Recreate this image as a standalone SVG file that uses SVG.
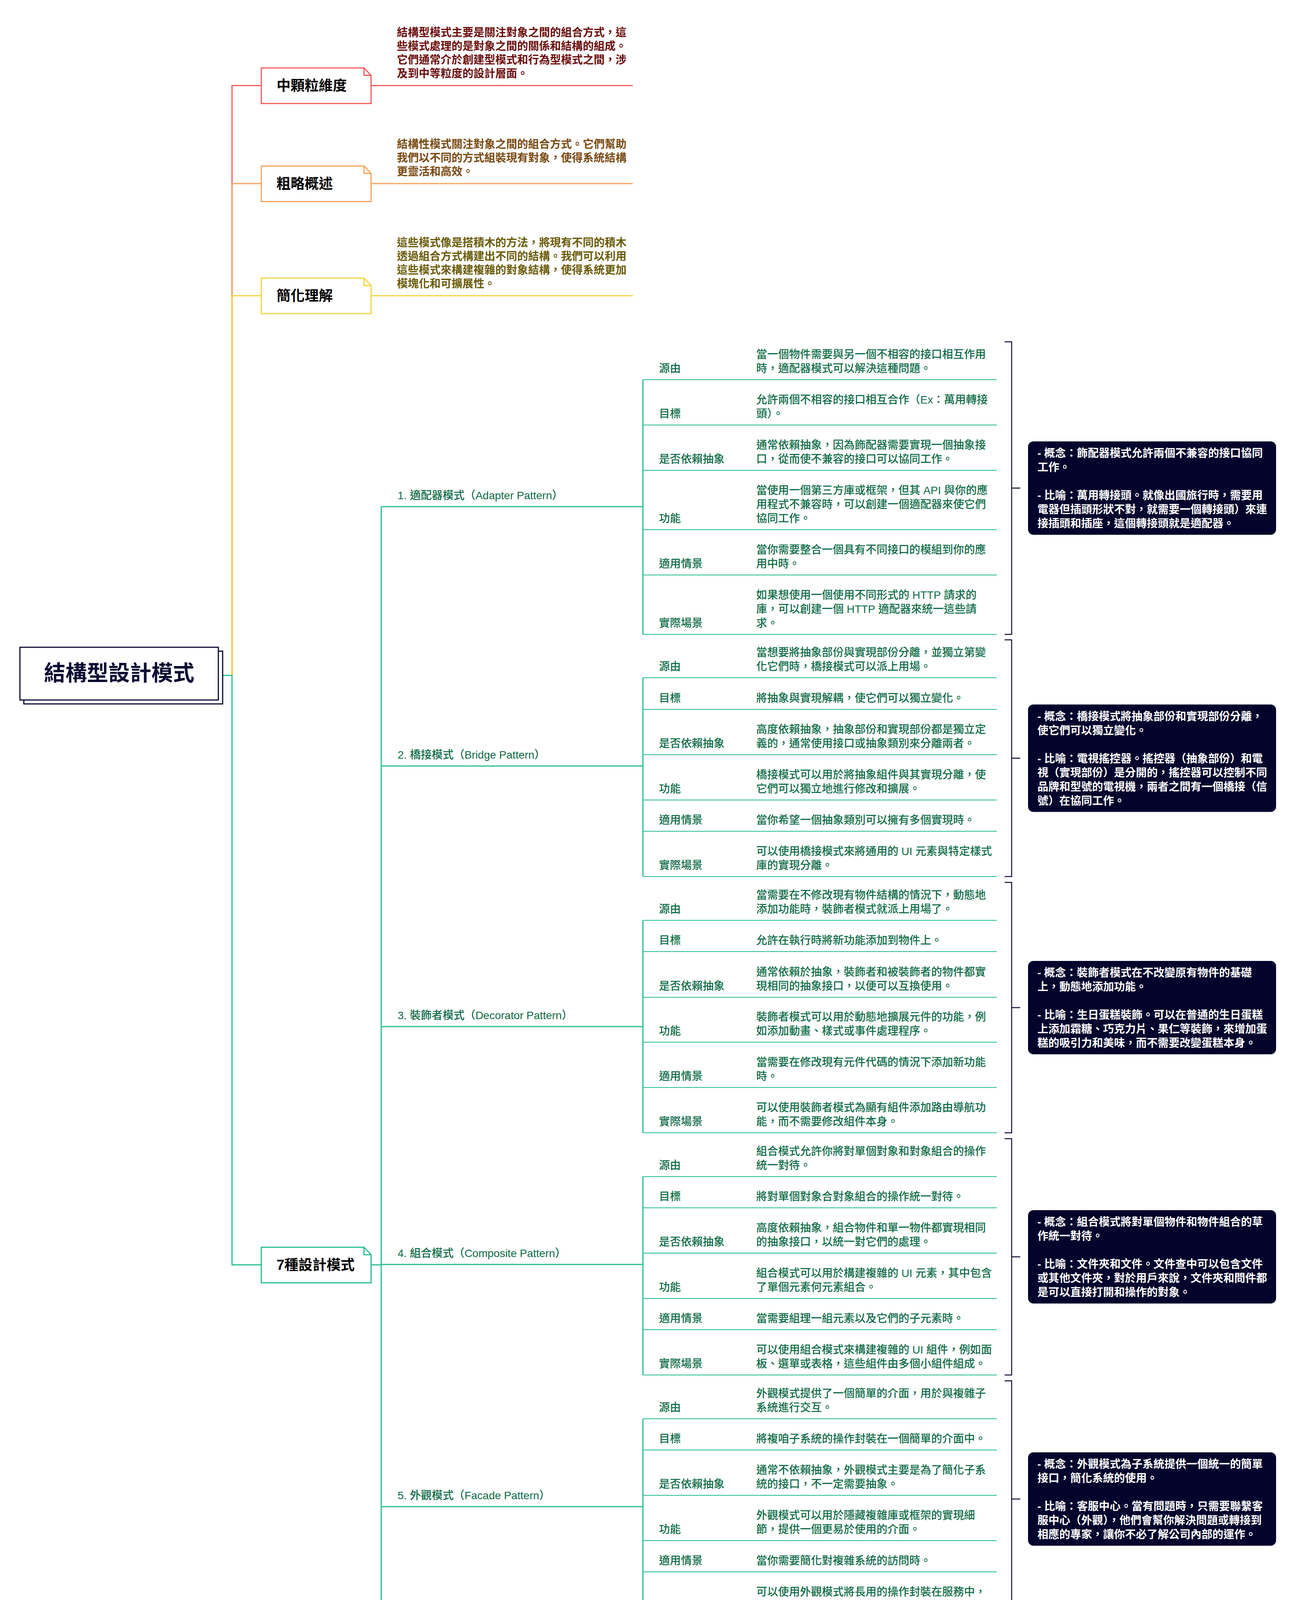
<svg xmlns="http://www.w3.org/2000/svg" width="3318" height="5610" viewBox="0 0 3318 5610">
<style>
text{font-family:"Liberation Sans","Noto Sans CJK TC","Noto Sans CJK SC",sans-serif}
.bg{fill:#ffffff}
.g{fill:none;stroke:#26bd8c;stroke-width:3}
.row{fill:none;stroke:#26bd8c;stroke-width:2.2}
.br{fill:none;stroke:#0b0b33;stroke-width:2.5}
.lbl{font-size:28px;font-weight:500;fill:#0e6b46}
.pl{font-size:28px;font-weight:500;fill:#0e6b46}
.sum{fill:#03032c}
.st{font-size:28px;font-weight:700;fill:#ffffff}
.n1{font-size:36px;font-weight:700;fill:#000000}
.nt{font-size:28px;font-weight:700}
</style>
<rect class="bg" x="0" y="0" width="3318" height="5610"/>

<g id="connectors">
  <path d="M594,1729 V219 H669" fill="none" stroke="#f25a5a" stroke-width="3"/>
  <path d="M594,1729 V470 H669" fill="none" stroke="#f5a35a" stroke-width="3"/>
  <path d="M594,1729 V757 H669" fill="none" stroke="#f5d33c" stroke-width="3"/>
  <path class="g" d="M570,1729 H594 V3238 H669"/>
  <path d="M950,219 H1620" fill="none" stroke="#f25a5a" stroke-width="3"/>
  <path d="M950,470 H1620" fill="none" stroke="#f5a35a" stroke-width="3"/>
  <path d="M950,757 H1620" fill="none" stroke="#f5d33c" stroke-width="3"/>
  <path class="g" d="M950,3238 H976 M976,1297 V5170 M976,1297 H1646 M976,1961 H1646 M976,2628 H1646 M976,3237 H1646 M976,3857 H1646 M976,4524 H1646 M976,5170 H1646"/>
  <path class="g" d="M1646,972 V1624 M1646,1735 V2244 M1646,2356 V2900 M1646,3012 V3520 M1646,3632 V4140 M1646,4252 V4796 M1646,4908 V5488"/>
  <path class="row" d="M1646,972 H2552 M1646,1088 H2552 M1646,1204 H2552 M1646,1356 H2552 M1646,1472 H2552 M1646,1624 H2552"/>
  <path class="row" d="M1646,1735 H2552 M1646,1816 H2552 M1646,1932 H2552 M1646,2048 H2552 M1646,2128 H2552 M1646,2244 H2552"/>
  <path class="row" d="M1646,2356 H2552 M1646,2436 H2552 M1646,2553 H2552 M1646,2668 H2552 M1646,2784 H2552 M1646,2900 H2552"/>
  <path class="row" d="M1646,3012 H2552 M1646,3092 H2552 M1646,3208 H2552 M1646,3324 H2552 M1646,3404 H2552 M1646,3520 H2552"/>
  <path class="row" d="M1646,3632 H2552 M1646,3712 H2552 M1646,3828 H2552 M1646,3944 H2552 M1646,4024 H2552 M1646,4140 H2552"/>
  <path class="row" d="M1646,4252 H2552 M1646,4332 H2552 M1646,4448 H2552 M1646,4564 H2552 M1646,4680 H2552 M1646,4796 H2552"/>
  <path class="row" d="M1646,4908 H2552 M1646,5024 H2552 M1646,5140 H2552 M1646,5256 H2552 M1646,5372 H2552 M1646,5488 H2552"/>
  <path class="br" d="M2572,875 H2590 V1624 H2572 M2590,1249.5 H2612"/>
  <path class="br" d="M2572,1638 H2590 V2244 H2572 M2590,1941 H2612"/>
  <path class="br" d="M2572,2259 H2590 V2900 H2572 M2590,2579.5 H2612"/>
  <path class="br" d="M2572,2915 H2590 V3520 H2572 M2590,3217.5 H2612"/>
  <path class="br" d="M2572,3535 H2590 V4140 H2572 M2590,3837.5 H2612"/>
  <path class="br" d="M2572,4155 H2590 V4796 H2572 M2590,4475.5 H2612"/>
  <path class="br" d="M2572,4811 H2590 V5488 H2572 M2590,5149.5 H2612"/>
</g>

<g id="root">
  <rect x="61" y="1667" width="509" height="135" fill="#ffffff" stroke="#0b0b33" stroke-width="3"/>
  <rect x="51" y="1657" width="508" height="135" fill="#ffffff" stroke="#0b0b33" stroke-width="3"/>
  <text x="305" y="1742" text-anchor="middle" font-size="55" font-weight="700" fill="#0b0b33">結構型設計模式</text>
</g>

<g id="node-medium">
  <path d="M669,174 H932 L950,193 V265 H669 Z" fill="#ffffff" stroke="#f25a5a" stroke-width="3"/>
  <path d="M932,174 V193 H950" fill="none" stroke="#f25a5a" stroke-width="3"/>
  <text class="n1" x="708" y="232">中顆粒維度</text>
  <text class="nt" fill="#6b0d0d"><tspan x="1016" y="93">結構型模式主要是關注對象之間的組合方式，這</tspan><tspan x="1016" y="128">些模式處理的是對象之間的關係和結構的組成。</tspan><tspan x="1016" y="163">它們通常介於創建型模式和行為型模式之間，涉</tspan><tspan x="1016" y="198">及到中等粒度的設計層面。</tspan></text>
</g>

<g id="node-overview">
  <path d="M669,425 H932 L950,444 V516 H669 Z" fill="#ffffff" stroke="#f5a35a" stroke-width="3"/>
  <path d="M932,425 V444 H950" fill="none" stroke="#f5a35a" stroke-width="3"/>
  <text class="n1" x="708" y="483">粗略概述</text>
  <text class="nt" fill="#7a4a12"><tspan x="1016" y="379">結構性模式關注對象之間的組合方式。它們幫助</tspan><tspan x="1016" y="414">我們以不同的方式組裝現有對象，使得系統結構</tspan><tspan x="1016" y="449">更靈活和高效。</tspan></text>
</g>

<g id="node-simple">
  <path d="M669,712 H932 L950,731 V803 H669 Z" fill="#ffffff" stroke="#f5d33c" stroke-width="3"/>
  <path d="M932,712 V731 H950" fill="none" stroke="#f5d33c" stroke-width="3"/>
  <text class="n1" x="708" y="770">簡化理解</text>
  <text class="nt" fill="#6b5c0a"><tspan x="1016" y="631">這些模式像是搭積木的方法，將現有不同的積木</tspan><tspan x="1016" y="666">透過組合方式構建出不同的結構。我們可以利用</tspan><tspan x="1016" y="701">這些模式來構建複雜的對象結構，使得系統更加</tspan><tspan x="1016" y="736">模塊化和可擴展性。</tspan></text>
</g>

<g id="node-seven">
  <path d="M669,3193 H932 L950,3212 V3284 H669 Z" fill="#ffffff" stroke="#26bd8c" stroke-width="3"/>
  <path d="M932,3193 V3212 H950" fill="none" stroke="#26bd8c" stroke-width="3"/>
  <text class="n1" x="708" y="3251">7種設計模式</text>
</g>

<g id="pattern-1">
  <text class="pl" x="1018" y="1278">1. 適配器模式（Adapter Pattern）</text>
  <text class="lbl" x="1687" y="953">源由</text>
  <text class="lbl"><tspan x="1936" y="917">當一個物件需要與另一個不相容的接口相互作用</tspan><tspan x="1936" y="953">時，適配器模式可以解決這種問題。</tspan></text>
  <text class="lbl" x="1687" y="1069">目標</text>
  <text class="lbl"><tspan x="1936" y="1033">允許兩個不相容的接口相互合作（Ex：萬用轉接</tspan><tspan x="1936" y="1069">頭）。</tspan></text>
  <text class="lbl" x="1687" y="1185">是否依賴抽象</text>
  <text class="lbl"><tspan x="1936" y="1149">通常依賴抽象，因為飾配器需要實現一個抽象接</tspan><tspan x="1936" y="1185">口，從而使不兼容的接口可以協同工作。</tspan></text>
  <text class="lbl" x="1687" y="1337">功能</text>
  <text class="lbl"><tspan x="1936" y="1265">當使用一個第三方庫或框架，但其 API 與你的應</tspan><tspan x="1936" y="1301">用程式不兼容時，可以創建一個適配器來使它們</tspan><tspan x="1936" y="1337">協同工作。</tspan></text>
  <text class="lbl" x="1687" y="1453">適用情景</text>
  <text class="lbl"><tspan x="1936" y="1417">當你需要整合一個具有不同接口的模組到你的應</tspan><tspan x="1936" y="1453">用中時。</tspan></text>
  <text class="lbl" x="1687" y="1605">實際場景</text>
  <text class="lbl"><tspan x="1936" y="1533">如果想使用一個使用不同形式的 HTTP 請求的</tspan><tspan x="1936" y="1569">庫，可以創建一個 HTTP 適配器來統一這些請</tspan><tspan x="1936" y="1605">求。</tspan></text>
  <rect class="sum" x="2632" y="1130" width="635" height="239" rx="14"/>
  <text class="st"><tspan x="2656" y="1170">- 概念：飾配器模式允許兩個不兼容的接口協同</tspan><tspan x="2656" y="1206">工作。</tspan><tspan x="2656" y="1278">- 比喻：萬用轉接頭。就像出國旅行時，需要用</tspan><tspan x="2656" y="1314">電器但插頭形狀不對，就需要一個轉接頭）來連</tspan><tspan x="2656" y="1350">接插頭和插座，這個轉接頭就是適配器。</tspan></text>
</g>

<g id="pattern-2">
  <text class="pl" x="1018" y="1942">2. 橋接模式（Bridge Pattern）</text>
  <text class="lbl" x="1687" y="1716">源由</text>
  <text class="lbl"><tspan x="1936" y="1680">當想要將抽象部份與實現部份分離，並獨立第變</tspan><tspan x="1936" y="1716">化它們時，橋接模式可以派上用場。</tspan></text>
  <text class="lbl" x="1687" y="1797">目標</text>
  <text class="lbl" x="1936" y="1797">將抽象與實現解耦，使它們可以獨立變化。</text>
  <text class="lbl" x="1687" y="1913">是否依賴抽象</text>
  <text class="lbl"><tspan x="1936" y="1877">高度依賴抽象，抽象部份和實現部份都是獨立定</tspan><tspan x="1936" y="1913">義的，通常使用接口或抽象類別來分離兩者。</tspan></text>
  <text class="lbl" x="1687" y="2029">功能</text>
  <text class="lbl"><tspan x="1936" y="1993">橋接模式可以用於將抽象組件與其實現分離，使</tspan><tspan x="1936" y="2029">它們可以獨立地進行修改和擴展。</tspan></text>
  <text class="lbl" x="1687" y="2109">適用情景</text>
  <text class="lbl" x="1936" y="2109">當你希望一個抽象類別可以擁有多個實現時。</text>
  <text class="lbl" x="1687" y="2225">實際場景</text>
  <text class="lbl"><tspan x="1936" y="2189">可以使用橋接模式來將通用的 UI 元素與特定樣式</tspan><tspan x="1936" y="2225">庫的實現分離。</tspan></text>
  <rect class="sum" x="2632" y="1803.5" width="635" height="275" rx="14"/>
  <text class="st"><tspan x="2656" y="1844">- 概念：橋接模式將抽象部份和實現部份分離，</tspan><tspan x="2656" y="1880">使它們可以獨立變化。</tspan><tspan x="2656" y="1952">- 比喻：電視搖控器。搖控器（抽象部份）和電</tspan><tspan x="2656" y="1988">視（實現部份）是分開的，搖控器可以控制不同</tspan><tspan x="2656" y="2024">品牌和型號的電視機，兩者之間有一個橋接（信</tspan><tspan x="2656" y="2060">號）在協同工作。</tspan></text>
</g>

<g id="pattern-3">
  <text class="pl" x="1018" y="2609">3. 裝飾者模式（Decorator Pattern）</text>
  <text class="lbl" x="1687" y="2337">源由</text>
  <text class="lbl"><tspan x="1936" y="2301">當需要在不修改現有物件結構的情況下，動態地</tspan><tspan x="1936" y="2337">添加功能時，裝飾者模式就派上用場了。</tspan></text>
  <text class="lbl" x="1687" y="2417">目標</text>
  <text class="lbl" x="1936" y="2417">允許在執行時將新功能添加到物件上。</text>
  <text class="lbl" x="1687" y="2534">是否依賴抽象</text>
  <text class="lbl"><tspan x="1936" y="2498">通常依賴於抽象，裝飾者和被裝飾者的物件都實</tspan><tspan x="1936" y="2534">現相同的抽象接口，以便可以互換使用。</tspan></text>
  <text class="lbl" x="1687" y="2649">功能</text>
  <text class="lbl"><tspan x="1936" y="2613">裝飾者模式可以用於動態地擴展元件的功能，例</tspan><tspan x="1936" y="2649">如添加動畫、樣式或事件處理程序。</tspan></text>
  <text class="lbl" x="1687" y="2765">適用情景</text>
  <text class="lbl"><tspan x="1936" y="2729">當需要在修改現有元件代碼的情況下添加新功能</tspan><tspan x="1936" y="2765">時。</tspan></text>
  <text class="lbl" x="1687" y="2881">實際場景</text>
  <text class="lbl"><tspan x="1936" y="2845">可以使用裝飾者模式為顯有組件添加路由導航功</tspan><tspan x="1936" y="2881">能，而不需要修改組件本身。</tspan></text>
  <rect class="sum" x="2632" y="2460" width="635" height="239" rx="14"/>
  <text class="st"><tspan x="2656" y="2500">- 概念：裝飾者模式在不改變原有物件的基礎</tspan><tspan x="2656" y="2536">上，動態地添加功能。</tspan><tspan x="2656" y="2608">- 比喻：生日蛋糕裝飾。可以在普通的生日蛋糕</tspan><tspan x="2656" y="2644">上添加霜糖、巧克力片、果仁等裝飾，來增加蛋</tspan><tspan x="2656" y="2680">糕的吸引力和美味，而不需要改變蛋糕本身。</tspan></text>
</g>

<g id="pattern-4">
  <text class="pl" x="1018" y="3218">4. 組合模式（Composite Pattern）</text>
  <text class="lbl" x="1687" y="2993">源由</text>
  <text class="lbl"><tspan x="1936" y="2957">組合模式允許你將對單個對象和對象組合的操作</tspan><tspan x="1936" y="2993">統一對待。</tspan></text>
  <text class="lbl" x="1687" y="3073">目標</text>
  <text class="lbl" x="1936" y="3073">將對單個對象合對象組合的操作統一對待。</text>
  <text class="lbl" x="1687" y="3189">是否依賴抽象</text>
  <text class="lbl"><tspan x="1936" y="3153">高度依賴抽象，組合物件和單一物件都實現相同</tspan><tspan x="1936" y="3189">的抽象接口，以統一對它們的處理。</tspan></text>
  <text class="lbl" x="1687" y="3305">功能</text>
  <text class="lbl"><tspan x="1936" y="3269">組合模式可以用於構建複雜的 UI 元素，其中包含</tspan><tspan x="1936" y="3305">了單個元素何元素組合。</tspan></text>
  <text class="lbl" x="1687" y="3385">適用情景</text>
  <text class="lbl" x="1936" y="3385">當需要組理一組元素以及它們的子元素時。</text>
  <text class="lbl" x="1687" y="3501">實際場景</text>
  <text class="lbl"><tspan x="1936" y="3465">可以使用組合模式來構建複雜的 UI 組件，例如面</tspan><tspan x="1936" y="3501">板、選單或表格，這些組件由多個小組件組成。</tspan></text>
  <rect class="sum" x="2632" y="3098" width="635" height="239" rx="14"/>
  <text class="st"><tspan x="2656" y="3138">- 概念：組合模式將對單個物件和物件組合的草</tspan><tspan x="2656" y="3174">作統一對待。</tspan><tspan x="2656" y="3246">- 比喻：文件夾和文件。文件查中可以包含文件</tspan><tspan x="2656" y="3282">或其他文件夾，對於用戶來說，文件夾和問件都</tspan><tspan x="2656" y="3318">是可以直接打開和操作的對象。</tspan></text>
</g>

<g id="pattern-5">
  <text class="pl" x="1018" y="3838">5. 外觀模式（Facade Pattern）</text>
  <text class="lbl" x="1687" y="3613">源由</text>
  <text class="lbl"><tspan x="1936" y="3577">外觀模式提供了一個簡單的介面，用於與複雜子</tspan><tspan x="1936" y="3613">系統進行交互。</tspan></text>
  <text class="lbl" x="1687" y="3693">目標</text>
  <text class="lbl" x="1936" y="3693">將複咱子系統的操作封裝在一個簡單的介面中。</text>
  <text class="lbl" x="1687" y="3809">是否依賴抽象</text>
  <text class="lbl"><tspan x="1936" y="3773">通常不依賴抽象，外觀模式主要是為了簡化子系</tspan><tspan x="1936" y="3809">統的接口，不一定需要抽象。</tspan></text>
  <text class="lbl" x="1687" y="3925">功能</text>
  <text class="lbl"><tspan x="1936" y="3889">外觀模式可以用於隱藏複雜庫或框架的實現細</tspan><tspan x="1936" y="3925">節，提供一個更易於使用的介面。</tspan></text>
  <text class="lbl" x="1687" y="4005">適用情景</text>
  <text class="lbl" x="1936" y="4005">當你需要簡化對複雜系統的訪問時。</text>
  <text class="lbl" x="1687" y="4121">實際場景</text>
  <text class="lbl"><tspan x="1936" y="4085">可以使用外觀模式將長用的操作封裝在服務中，</tspan><tspan x="1936" y="4121">以便在應用成式的其他部份使用。</tspan></text>
  <rect class="sum" x="2632" y="3718" width="635" height="239" rx="14"/>
  <text class="st"><tspan x="2656" y="3758">- 概念：外觀模式為子系統提供一個統一的簡單</tspan><tspan x="2656" y="3794">接口，簡化系統的使用。</tspan><tspan x="2656" y="3866">- 比喻：客服中心。當有問題時，只需要聯繫客</tspan><tspan x="2656" y="3902">服中心（外觀），他們會幫你解決問題或轉接到</tspan><tspan x="2656" y="3938">相應的專家，讓你不必了解公司內部的運作。</tspan></text>
</g>

<g id="pattern-6">
  <text class="pl" x="1018" y="4505">6. 享元模式（Flyweight Pattern）</text>
  <text class="lbl" x="1687" y="4233">源由</text>
  <text class="lbl"><tspan x="1936" y="4197">享元模式旨在最小化內存使用或計算開銷，通過</tspan><tspan x="1936" y="4233">共享相似對象之間的數據，以減少重複的實例。</tspan></text>
  <text class="lbl" x="1687" y="4313">目標</text>
  <text class="lbl" x="1936" y="4313">減少對象，以減少內存使用和提高效能。</text>
  <text class="lbl" x="1687" y="4429">是否依賴抽象</text>
  <text class="lbl"><tspan x="1936" y="4393">可以依賴抽象，用於共享的細粒度對象通常現一</tspan><tspan x="1936" y="4429">個抽象接口。</tspan></text>
  <text class="lbl" x="1687" y="4545">功能</text>
  <text class="lbl"><tspan x="1936" y="4509">享元模式可以用於管理大量相似的對象，通常是</tspan><tspan x="1936" y="4545">不可變對象，以節省內存和提高效能。</tspan></text>
  <text class="lbl" x="1687" y="4661">適用情景</text>
  <text class="lbl"><tspan x="1936" y="4625">當需要處理大量相似對象時，並希望減少嫩存使</tspan><tspan x="1936" y="4661">用和提高性能時。</tspan></text>
  <text class="lbl" x="1687" y="4777">實際場景</text>
  <text class="lbl"><tspan x="1936" y="4741">可以使用享元模式來管理一組靜態數據，例如共</tspan><tspan x="1936" y="4777">享的選項或常量，以減少內存使用。</tspan></text>
  <rect class="sum" x="2632" y="4356" width="635" height="239" rx="14"/>
  <text class="st"><tspan x="2656" y="4396">- 概念：享元模式通過共享大量細粒度對象以節</tspan><tspan x="2656" y="4432">省內存。</tspan><tspan x="2656" y="4504">- 比喻：共享單車。城市中的共享單車由許多人</tspan><tspan x="2656" y="4540">使用，而不是每個人都擁有自己的單車，這樣可</tspan><tspan x="2656" y="4576">以節省資源和空間。</tspan></text>
</g>

<g id="pattern-7">
  <text class="pl" x="1018" y="5151">7. 代理模式（Proxy Pattern）</text>
  <text class="lbl" x="1687" y="4889">源由</text>
  <text class="lbl"><tspan x="1936" y="4853">代理模式為其他對象提供了一個替代或占位符，</tspan><tspan x="1936" y="4889">以控制者個對象的訪問。</tspan></text>
  <text class="lbl" x="1687" y="5005">目標</text>
  <text class="lbl"><tspan x="1936" y="4969">控制對對象的訪問，例如限制訪問權限或在訪問</tspan><tspan x="1936" y="5005">時添加額外的行為。</tspan></text>
  <text class="lbl" x="1687" y="5121">是否依賴接口</text>
  <text class="lbl"><tspan x="1936" y="5085">通常依賴於抽象，代理和被代理的物件都實現相</tspan><tspan x="1936" y="5121">同的抽象接口，以確保代理可以替換原始物件。</tspan></text>
  <text class="lbl" x="1687" y="5237">功能</text>
  <text class="lbl"><tspan x="1936" y="5201">代理模式可以用於控制對敏感資源的訪問，例如</tspan><tspan x="1936" y="5237">限制某些 API 的訪問或添加身份證。</tspan></text>
  <text class="lbl" x="1687" y="5353">適用情景</text>
  <text class="lbl"><tspan x="1936" y="5317">當你需要對對象的訪問進行控制或添加額外的行</tspan><tspan x="1936" y="5353">為時。</tspan></text>
  <text class="lbl" x="1687" y="5469">實際場景</text>
  <text class="lbl"><tspan x="1936" y="5433">可以使用代理模式來控制對特定路由的訪問，例</tspan><tspan x="1936" y="5469">如檢查用戶的身份證狀態或權限。</tspan></text>
  <rect class="sum" x="2632" y="5012" width="635" height="275" rx="14"/>
  <text class="st"><tspan x="2656" y="5052">- 概念：代理模式為其他對象提供一個替代或占</tspan><tspan x="2656" y="5088">位符，以控制對這個對象的訪問。</tspan><tspan x="2656" y="5160">- 比喻：圖書館的圖書借閱代理。當借書時，並</tspan><tspan x="2656" y="5196">不是直接從書架上拿書，而是通過圖書管管理</tspan><tspan x="2656" y="5232">員（代理）來借書，管理員會控制借閱過程，確</tspan><tspan x="2656" y="5268">保借書的規範性。</tspan></text>
</g>

<g id="footer">
  <text x="1662" y="5570" text-anchor="middle" font-size="40" fill="#c4c4c4">Presented with <tspan font-weight="700" fill="#b0b0b0">xmind</tspan></text>
</g>
</svg>
